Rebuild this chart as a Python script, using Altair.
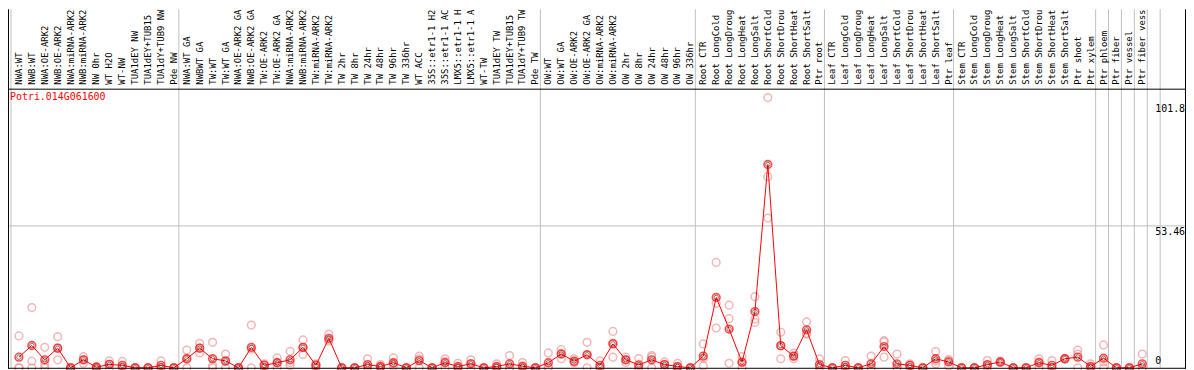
import altair as alt
import pandas as pd

labels = [
    "NWA:WT", "NWB:WT", "NWA:OE-ARK2", "NWB:OE-ARK2", "NWA:miRNA-ARK2", "NWB:miRNA-ARK2",
    "NW 0hr", "WT H2O", "WT-NW", "TUA1dEY NW", "TUA1dEY+TUB15", "TUA1dY+TUB9 NW", "Pde NW",
    "NWA:WT GA", "NWBWT GA", "TW:WT", "TW:WT GA", "NWA:OE-ARK2 GA", "NWB:OE-ARK2 GA",
    "TW:OE-ARK2", "TW:OE-ARK2 GA", "NWA:miRNA-ARK2", "NWB:miRNA-ARK2", "TW:miRNA-ARK2",
    "TW:miRNA-ARK2", "TW 2hr", "TW 8hr", "TW 24hr", "TW 48hr", "TW 96hr", "TW 336hr",
    "WT ACC", "35S::etr1-1 H2", "35S::etr1-1 AC", "LMX5::etr1-1 H", "LMX5::etr1-1 A",
    "WT-TW", "TUA1dEY TW", "TUA1dEY+TUB15", "TUA1dY+TUB9 TW", "Pde TW",
    "OW:WT", "OW:WT GA", "OW:OE-ARK2", "OW:OE-ARK2 GA", "OW:miRNA-ARK2", "OW:miRNA-ARK2",
    "OW 2hr", "OW 8hr", "OW 24hr", "OW 48hr", "OW 96hr", "OW 336hr",
    "Root CTR", "Root LongCold", "Root LongDroug", "Root LongHeat", "Root LongSalt",
    "Root ShortCold", "Root ShortDrou", "Root ShortHeat", "Root ShortSalt", "Ptr root",
    "Leaf CTR", "Leaf LongCold", "Leaf LongDroug", "Leaf LongHeat", "Leaf LongSalt",
    "Leaf ShortCold", "Leaf ShortDrou", "Leaf ShortHeat", "Leaf ShortSalt", "Ptr leaf",
    "Stem CTR", "Stem LongCold", "Stem LongDroug", "Stem LongHeat", "Stem LongSalt",
    "Stem ShortCold", "Stem ShortDrou", "Stem ShortHeat", "Stem ShortSalt", "Ptr shoot",
    "Ptr xylem", "Ptr phloem", "Ptr fiber", "Ptr vessel", "Ptr fiber vess",
]

group_sizes = [13, 28, 12, 10, 10, 11, 1, 1, 1, 1, 1]

means = [
    4.0, 8.4, 3.0, 7.4, 0, 3.0, 0.2, 1.3, 0.9, 0, 0, 0.9, 0,
    3.4, 7.4, 3.4, 2.6, 0, 7.7, 0.9, 1.9, 3.0, 7.7, 0.9, 11.1, 0, 0, 1.2, 0.5,
    1.9, 0, 2.7, 0, 1.9, 0.5, 1.5, 0, 0.5, 1.5, 0.6, 0,
    1.9, 5.2, 2.5, 4.9, 0.9, 9.0, 3.0, 1.1, 3.0, 1.2, 0.5, 0,
    4.4, 26.5, 14.6, 2.1, 21.2, 76.6, 8.35, 4.4, 14.3, 1.2,
    0, 0.9, 0, 1.5, 8.0, 1.5, 0.9, 0, 3.4, 2.2,
    0, 0, 1.2, 2.2, 0, 0, 1.9, 0.9, 3.4, 4.0, 0.5,
    3.6, 0, 0, 1.5,
]

rep_a = [
    12.0, 22.7, 7.7, 11.7, 0, 4.2, 0.5, 2.6, 2.4, 0, 0, 2.6, 0,
    6.7, 9.2, 9.6, 5.2, 0, 16.1, 1.5, 3.7, 6.2, 10.5, 1.5, 12.7, 0, 0, 3.4, 1.2,
    3.7, 0, 4.4, 0, 3.4, 1.7, 3.0, 0, 1.5, 4.6, 2.0, 0,
    5.6, 6.9, 3.4, 9.6, 2.6, 13.7, 4.0, 3.5, 4.6, 2.2, 1.7, 0,
    9.0, 39.7, 23.6, 4.2, 26.8, 101.8, 13.4, 5.5, 17.3, 3.4,
    0, 2.7, 0, 4.4, 10.2, 5.2, 1.5, 0, 6.1, 3.1,
    0, 0, 2.7, 2.5, 0, 0, 3.4, 2.7, 3.5, 6.7, 1.5,
    8.6, 0, 0, 5.2,
]

rep_b = [
    0, 2.5, 1.3, 7.4, 0, 3.0, 0, 1.3, 0.3, 0, 0, 0, 0,
    3.4, 7.4, 0.9, 2.4, 0, 7.0, 1.2, 2.0, 2.0, 7.6, 1.2, 10.6, 0, 0, 0.3, 0.3,
    1.5, 0, 3.4, 0, 2.4, 0, 1.6, 0, 0, 0, 0, 0,
    0.3, 5.3, 2.2, 5.0, 0, 9.3, 3.0, 0, 4.0, 1.2, 0, 0,
    3.5, 24.3, 18.5, 2.0, 18.3, 72.0, 8.3, 4.4, 13.0, 0.3,
    0, 0, 0, 0, 9.8, 0, 1.0, 0, 2.6, 2.7,
    0, 0, 0.9, 2.0, 0, 0, 2.2, 0, 3.4, 5.2, 0,
    2.2, 0, 0, 0,
]

rep_c = [
    0, 0, 0, 3.0, 0, 1.7, 0, 0, 0, 0, 0, 0, 0,
    0, 5.6, 0, 0, 0, 0, 0, 0, 0.9, 5.0, 0, 10.0, 0, 0, 0, 0,
    0.5, 0, 0, 0, 0, 0, 0, 0, 0, 0, 0, 0,
    0, 3.4, 1.9, 0, 0, 4.0, 2.0, 0, 0, 0, 0, 0,
    0.7, 15.0, 1.7, 0, 17.1, 56.4, 3.4, 3.4, 12.7, 0,
    0, 0, 0, 0, 4.0, 0, 0, 0, 1.5, 0.7,
    0, 0, 0, 2.0, 0, 0, 0, 0, 3.3, 0, 0,
    0, 0, 0, 0,
]

y_tick_values = [101.8, 53.46, 0]
y_tick_labels = ["101.8", "53.46", "0"]
grid_values = [53.46]
gene_id = "Potri.014G061600"

W, H = 1186, 362
FONT = "DejaVu Sans Mono"
n = len(labels)
idx = list(range(n))

df = pd.DataFrame({"i": idx, "label": labels, "mean": means})
reps = pd.DataFrame({"i": idx * 3, "v": rep_a + rep_b + rep_c})

bounds = [-1]
s = -1
for g in group_sizes:
    s += g
    bounds.append(s)
bdf = pd.DataFrame({"i": [b + 0.385 for b in bounds]})

xs = alt.Scale(domain=[0, n - 1], range=[11, 1142], nice=False, zero=False)
ys = alt.Scale(domain=[0, 101.8], range=[361, 89], nice=False, zero=False)
X = alt.X("i:Q", scale=xs, axis=None)

vlines = alt.Chart(bdf).mark_rule(color="#c0c0c0", strokeWidth=1).encode(
    x=X, y=alt.value(0), y2=alt.value(361)
)
grid = alt.Chart(pd.DataFrame({"g": grid_values})).mark_rule(color="#c0c0c0", strokeWidth=1).encode(
    y=alt.Y("g:Q", scale=ys, axis=None), x=alt.value(0), x2=alt.value(W)
)

frame_h = alt.Chart(pd.DataFrame({"k": ["top", "bottom"], "yy": [80.5, 361.5]})).mark_rule(
    color="black", strokeWidth=1
).encode(y=alt.Y("yy:Q", scale=None), x=alt.value(0), x2=alt.value(W))
frame_v = alt.Chart(pd.DataFrame({"k": ["left", "right"], "xx": [0.5, 1185.5]})).mark_rule(
    color="black", strokeWidth=1
).encode(x=alt.X("xx:Q", scale=None), y=alt.value(0), y2=alt.value(362))

rep_pts = alt.Chart(reps).mark_point(
    shape="circle", filled=False, color="#f09898", size=60, strokeWidth=1.5
).encode(x=X, y=alt.Y("v:Q", scale=ys, axis=None))

line = alt.Chart(df).mark_line(color="#ff0000", strokeWidth=1).encode(
    x=X, y=alt.Y("mean:Q", scale=ys, axis=None)
)
mean_outer = alt.Chart(df).mark_point(
    shape="circle", filled=False, color="#ff0000", size=60, strokeWidth=1.6
).encode(x=X, y=alt.Y("mean:Q", scale=ys, axis=None))
mean_inner = alt.Chart(df).mark_point(
    shape="circle", filled=False, color="#300000", size=20, strokeWidth=0.8
).encode(x=X, y=alt.Y("mean:Q", scale=ys, axis=None))

xlabels = alt.Chart(df).mark_text(
    angle=270, align="left", baseline="middle", font=FONT, fontSize=9, color="black"
).encode(x=X, y=alt.value(76), text="label:N")

title = alt.Chart(pd.DataFrame({"t": [gene_id]})).mark_text(
    align="left", baseline="middle", font=FONT, fontSize=10, color="#ff0000"
).encode(x=alt.value(2), y=alt.value(88), text="t:N")

tick_offsets = [11.5, 6, -7]
tick_layers = []
for v, lab, dy in zip(y_tick_values, y_tick_labels, tick_offsets):
    tick_layers.append(
        alt.Chart(pd.DataFrame({"v": [v], "lab": [lab]})).mark_text(
            align="left", baseline="middle", font=FONT, fontSize=10, color="black", dy=dy
        ).encode(x=alt.value(1155), y=alt.Y("v:Q", scale=ys, axis=None), text="lab:N")
    )

chart = alt.layer(
    vlines, grid, rep_pts, line, mean_outer, mean_inner, xlabels, title, *tick_layers,
    frame_h, frame_v,
).properties(
    width=W, height=H, padding=0, autosize=alt.AutoSizeParams(type="none")
).configure_view(strokeWidth=0)

chart.save("out.html", embed_options={"renderer": "svg", "actions": False})
